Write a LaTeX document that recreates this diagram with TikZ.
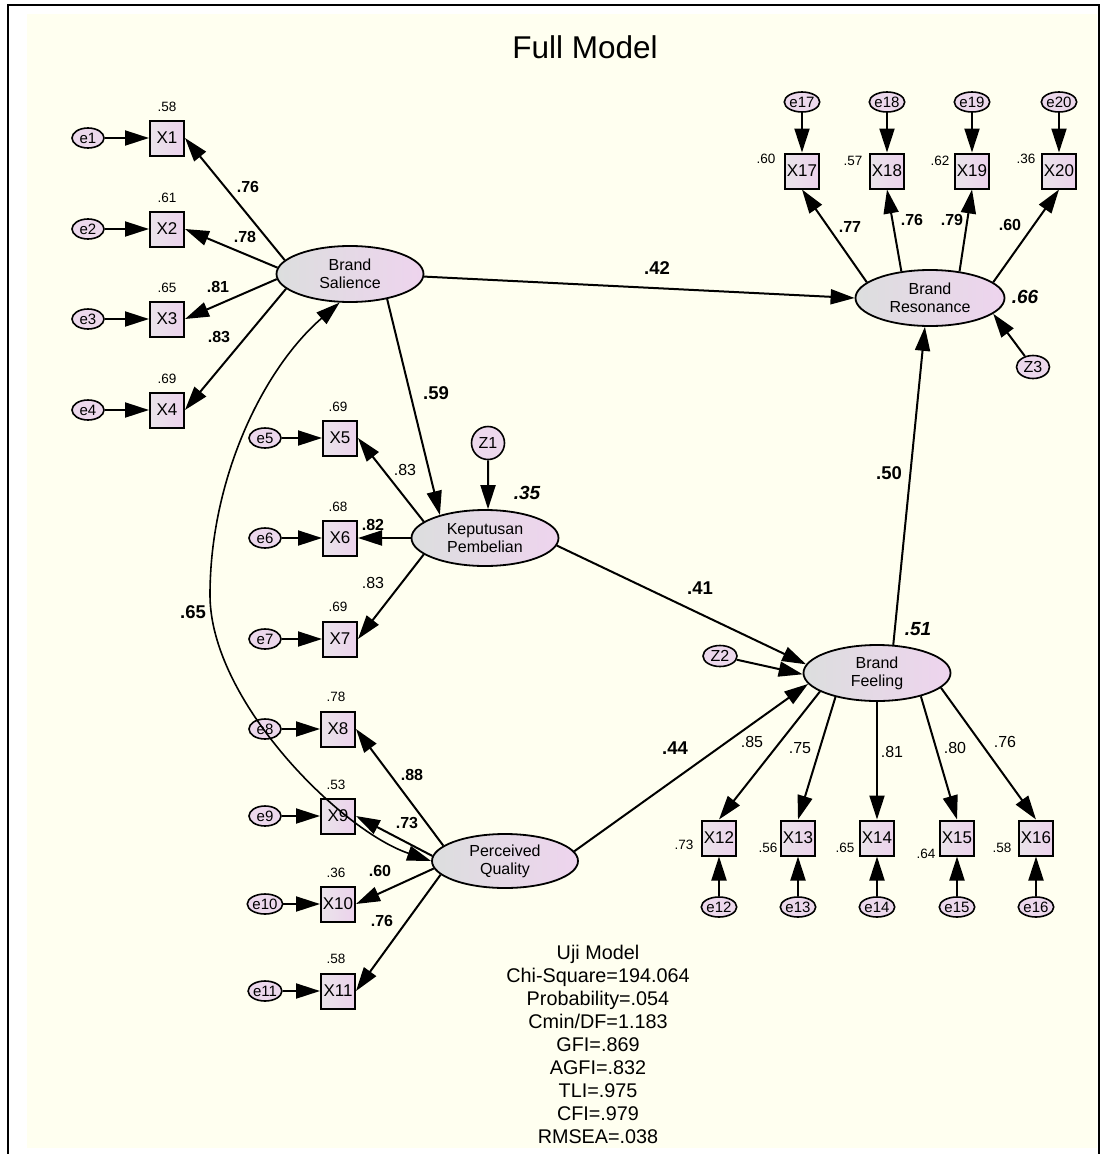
\documentclass[tikz,border=0pt]{standalone}
\usepackage{fontspec}
\setmainfont{Liberation Sans}
\usetikzlibrary{arrows.meta,shapes.geometric,calc}

\definecolor{paper}{RGB}{255,255,240}
\definecolor{latL}{RGB}{220,222,222}
\definecolor{latR}{RGB}{238,212,238}
\definecolor{boxL}{RGB}{234,228,234}
\definecolor{boxR}{RGB}{236,210,236}
\definecolor{errfill}{RGB}{236,216,236}

\newcommand\myfs[2]{\fontsize{#1}{#2}\selectfont}

\begin{document}
\begin{tikzpicture}[x=1pt,y=-1pt,
  latent/.style={ellipse, draw, line width=1.8pt, minimum width=147pt, minimum height=56pt,
    inner sep=0pt, left color=latL, right color=latR, align=center, font=\myfs{16}{18}},
  obs/.style={rectangle, draw, line width=2pt, minimum width=34pt, minimum height=35pt,
    inner sep=0pt, left color=boxL, right color=boxR, font=\myfs{17}{17}},
  err/.style={ellipse, draw, line width=1.6pt, minimum width=32pt, minimum height=20pt,
    inner sep=0pt, fill=errfill, font=\myfs{15}{15}},
  dist/.style={ellipse, draw, line width=1.6pt, inner sep=0pt, fill=errfill, font=\myfs{16}{16}},
  arr/.style={line width=2pt, -{Triangle[length=24pt,width=15pt]}},
  cov/.style={line width=1.6pt, {Triangle[length=24pt,width=15pt]}-{Triangle[length=24pt,width=15pt]}},
  sq/.style={font=\myfs{13.5}{14}, inner sep=0pt},
  ld/.style={font=\bfseries\myfs{16}{16}, inner sep=0pt},
  ldr/.style={font=\myfs{16}{16}, inner sep=0pt},
  path/.style={font=\bfseries\myfs{18.5}{19}, inner sep=0pt},
  rsq/.style={font=\bfseries\itshape\myfs{19}{19}, inner sep=0pt},
  fit/.style={font=\myfs{19.8}{23}, align=center, inner sep=0pt}
]
\useasboundingbox (0,0) rectangle (1100,1154);

% page and frame
\fill[white] (0,0) rectangle (1100,1154);
\fill[paper] (27,14) rectangle (1097,1148);
\draw[line width=2pt] (8.3,1154) -- (8.3,4.8) -- (1098.5,4.8) -- (1098.5,1154);

\node[font=\myfs{31.5}{32}, inner sep=0pt] (title) at (585,47) {Full Model};

% latent variables
\node[latent] (bs) at (350,274) {Brand\\Salience};
\node[latent] (kp) at (485,538) {Keputusan\\Pembelian};
\node[latent, minimum width=146pt, minimum height=54pt] (pq) at (505,861) {Perceived\\Quality};
\node[latent] (bf) at (877,673) {Brand\\Feeling};
\node[latent, minimum width=149pt] (br) at (930,298) {Brand\\Resonance};

% disturbances
\node[dist, circle, minimum size=33pt] (z1) at (488,443) {Z1};
\node[dist, minimum width=34pt, minimum height=21pt] (z2) at (720,656) {Z2};
\node[dist, minimum width=33pt, minimum height=23pt] (z3) at (1033,367) {Z3};

% indicators of Brand Salience
\foreach \i/\y in {1/138,2/229,3/319,4/410}{
  \node[obs] (x\i) at (167,\y) {X\i};
  \node[err] (e\i) at (88,\y) {e\i};
}
% indicators of Keputusan Pembelian
\foreach \i/\y in {5/438,6/538,7/639}{
  \node[obs] (x\i) at (340,\y) {X\i};
  \node[err] (e\i) at (265,\y) {e\i};
}
% indicators of Perceived Quality
\foreach \i/\y in {8/729,9/816,10/904,11/991}{
  \node[obs] (x\i) at (338,\y) {X\i};
  \node[err] (e\i) at (265,\y) {e\i};
}
% indicators of Brand Feeling
\foreach \i/\x in {12/719,13/798,14/877,15/957,16/1036}{
  \node[obs] (x\i) at (\x,838) {X\i};
  \node[err] (e\i) at (\x,907) {e\i};
}
% indicators of Brand Resonance
\foreach \i/\x in {17/802,18/887,19/972,20/1059}{
  \node[obs] (x\i) at (\x,171) {X\i};
  \node[err] (e\i) at (\x,102) {e\i};
}

% measurement errors
\foreach \i in {1,...,11}{ \draw[arr] (e\i) -- (x\i); }
\foreach \i in {12,...,20}{ \draw[arr] (e\i) -- (x\i); }

% loadings
\draw[arr] (bs.168) -- (x1.east);
\draw[arr] (bs.175) -- (x2.east);
\draw[arr] (bs.184) -- (x3.east);
\draw[arr] (bs.193) -- (x4.east);

\draw[arr] (kp.165) -- (x5.east);
\draw[arr] (kp.180) -- (x6.east);
\draw[arr] (kp.195) -- (x7.east);

\draw[arr] (pq.166) -- (x8.east);
\draw[arr] (pq.176) -- (x9.east);
\draw[arr] (pq.186) -- (x10.east);
\draw[arr] (pq.192) -- (x11.east);

\draw[arr] (bf.198) -- (x12.north);
\draw[arr] (bf.210) -- (x13.north);
\draw[arr] (bf.270) -- (x14.north);
\draw[arr] (bf.332) -- (x15.north);
\draw[arr] (bf.347) -- (x16.north);

\draw[arr] (br.166) -- (x17.south);
\draw[arr] (br.137) -- (x18.south);
\draw[arr] (br.42) -- (x19.south);
\draw[arr] (br.14) -- (x20.south);

% structural paths
\draw[arr] (bs.358) -- (br.180);
\draw[arr] (bs.326) -- (kp.153);
\draw[arr] (kp.354) -- (bf.173);
\draw[arr] (pq.8) -- (bf.189);
\draw[arr] (bf.60) -- (br.260);
\draw[arr] (z1) -- (kp.84);
\draw[arr] (z2) -- (bf.181);
\draw[arr] (z3) -- (br.346);

% covariance between Brand Salience and Perceived Quality
\coordinate (covmid) at (210,595);
\draw[cov] (bs.250) .. controls (262,370) and (210,480) .. (covmid)
  .. controls (210,700) and (340,830) .. (pq.180);

% squared multiple correlations
\node[sq] (r1) at (167,107) {.58};
\node[sq] (r2) at (167,198) {.61};
\node[sq] (r3) at (167,288) {.65};
\node[sq] (r4) at (167,379) {.69};
\node[sq] (r5) at (338,407) {.69};
\node[sq] (r6) at (338,507) {.68};
\node[sq] (r7) at (338,607) {.69};
\node[sq] (r8) at (336,697) {.78};
\node[sq] (r9) at (336,785) {.53};
\node[sq] (r10) at (336,873) {.36};
\node[sq] (r11) at (336,959) {.58};
\node[sq] (r12) at (684,845) {.73};
\node[sq] (r13) at (768,848) {.56};
\node[sq] (r14) at (845,848) {.65};
\node[sq] (r15) at (926,854) {.64};
\node[sq] (r16) at (1002,848) {.58};
\node[sq] (r17) at (766,159) {.60};
\node[sq] (r18) at (853,161) {.57};
\node[sq] (r19) at (940,161) {.62};
\node[sq] (r20) at (1026,159) {.36};

% loading estimates
\node[ld] (l1) at (248,187) {.76};
\node[ld] (l2) at (245,237) {.78};
\node[ld] (l3) at (218,287) {.81};
\node[ld] (l4) at (219,337) {.83};
\node[ldr] (l5) at (405,470) {.83};
\node[ld] (l6) at (373,525) {.82};
\node[ldr] (l7) at (373,583) {.83};
\node[ld] (l8) at (412,775) {.88};
\node[ld] (l9) at (407,823) {.73};
\node[ld] (l10) at (380,871) {.60};
\node[ld] (l11) at (382,921) {.76};
\node[ldr] (l12) at (752,742) {.85};
\node[ldr] (l13) at (800,748) {.75};
\node[ldr] (l14) at (892,752) {.81};
\node[ldr] (l15) at (955,748) {.80};
\node[ldr] (l16) at (1005,742) {.76};
\node[ld] (l17) at (850,227) {.77};
\node[ld] (l18) at (912,220) {.76};
\node[ld] (l19) at (952,220) {.79};
\node[ld] (l20) at (1010,225) {.60};

% path coefficients
\node[path] (p1) at (657,268) {.42};
\node[path] (p2) at (436,393) {.59};
\node[path] (p3) at (700,588) {.41};
\node[path] (p4) at (889,473) {.50};
\node[path] (p5) at (675,748) {.44};
\node[path] (p6) at (193,612) {.65};

% explained variance of endogenous constructs
\node[rsq] (q1) at (527,493) {.35};
\node[rsq] (q2) at (918,629) {.51};
\node[rsq] (q3) at (1025,297) {.66};

% fit statistics
\node[fit, anchor=north] (fitbox) at (598,945) {Uji Model\\Chi-Square=194.064\\Probability=.054\\Cmin/DF=1.183\\GFI=.869\\AGFI=.832\\TLI=.975\\CFI=.979\\RMSEA=.038};
\end{tikzpicture}
\end{document}
